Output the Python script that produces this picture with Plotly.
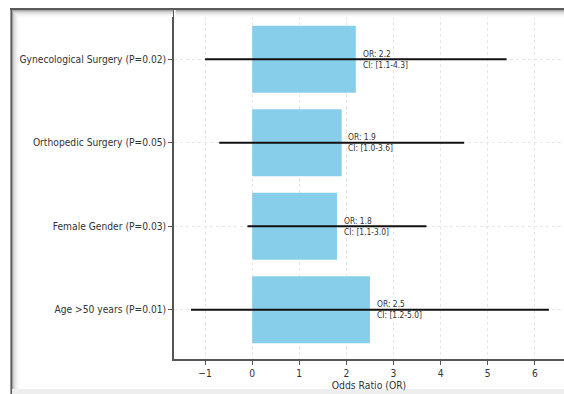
import plotly.graph_objects as go

# Data (bottom to top)
factors = ["Age >50 years (P=0.01)", "Female Gender (P=0.03)",
           "Orthopedic Surgery (P=0.05)", "Gynecological Surgery (P=0.02)"]
odds_ratio = [2.5, 1.8, 1.9, 2.2]
ci_lower = [1.2, 1.1, 1.0, 1.1]
ci_upper = [5.0, 3.0, 3.6, 4.3]
x_ticks = [-1, 0, 1, 2, 3, 4, 5, 6]

W, H = 564, 394
L, R, T, B = 174, 0, 10, 35
pw, ph = W - L - R, H - T - B
FONT = "DejaVu Sans Condensed, DejaVu Sans"

def px(x):
    return (x - L) / pw

def py(y):
    return (H - B - y) / ph

err = [u - l for u, l in zip(ci_upper, ci_lower)]

fig = go.Figure()
fig.add_trace(go.Bar(
    y=factors, x=odds_ratio, orientation="h", width=0.8,
    marker=dict(color="#87CEEB", line=dict(width=0)),
    error_x=dict(type="data", array=err, symmetric=True, width=0,
                 thickness=2, color="#111111"),
    showlegend=False,
))

annotations = []
for f, o, lo, hi in zip(factors, odds_ratio, ci_lower, ci_upper):
    annotations.append(dict(
        x=o + 0.1, y=f, xref="x", yref="y", xanchor="left", yanchor="middle",
        text=f"OR: {o}<br>CI: [{lo}-{hi}]", showarrow=False, align="left",
        font=dict(family=FONT, size=8.4, color="#333333"),
    ))

shapes = []
# frame top/left dark line and soft shadow
shapes.append(dict(type="line", xref="paper", yref="paper", x0=px(10), x1=px(W),
                   y0=py(9), y1=py(9), line=dict(color="#5a5a5a", width=2.2), layer="above"))
shapes.append(dict(type="line", xref="paper", yref="paper", x0=px(11.5), x1=px(11.5),
                   y0=py(8), y1=py(H), line=dict(color="#5a5a5a", width=2.2), layer="above"))
shade = ["#a8a8a8", "#c4c4c4", "#d8d8d8", "#e6e6e6", "#efefef", "#f6f6f6", "#fbfbfb"]
for i, c in enumerate(shade):
    yy = 10.5 + i
    for a, b in ((12.5 + i, 173), (175.5, W)):
        shapes.append(dict(type="line", xref="paper", yref="paper", x0=px(a), x1=px(b),
                           y0=py(yy), y1=py(yy), line=dict(color=c, width=1), layer="above"))
    xx = 13 + i
    shapes.append(dict(type="line", xref="paper", yref="paper", x0=px(xx), x1=px(xx),
                       y0=py(10 + i), y1=py(H), line=dict(color=c, width=1), layer="above"))
# light band at the bottom
shapes.append(dict(type="rect", xref="paper", yref="paper", x0=px(12), x1=px(W),
                   y0=py(389), y1=py(H), fillcolor="#eeeeee", line=dict(width=0), layer="above"))

fig.update_layout(
    width=W, height=H,
    margin=dict(l=L, r=R, t=T, b=B),
    paper_bgcolor="white", plot_bgcolor="white",
    font=dict(family=FONT, size=10.2, color="#333333"),
    bargap=0.2,
    annotations=annotations,
    shapes=shapes,
    xaxis=dict(
        range=[-1.66, 6.62], tickvals=x_ticks, ticks="outside", ticklen=4,
        tickcolor="#555555", showline=True, linecolor="#555555", linewidth=1.5,
        showgrid=True, gridcolor="#e6e6e6", griddash="dot", gridwidth=1,
        zeroline=False, layer="above traces",
        title=dict(text="Odds Ratio (OR)", standoff=3, font=dict(size=10.3)),
        automargin=False,
    ),
    yaxis=dict(
        categoryorder="array", categoryarray=factors, range=[-0.59, 3.59],
        ticks="outside", ticklen=4, tickcolor="#555555",
        showline=True, linecolor="#555555", linewidth=1.5,
        showgrid=True, gridcolor="#e6e6e6", griddash="dot", gridwidth=1,
        zeroline=False, automargin=False,
    ),
)

fig.write_html(
    "out.html",
    config={"displayModeBar": False},
    post_script="document.body.style.margin='0';document.body.style.overflow='hidden';",
)
